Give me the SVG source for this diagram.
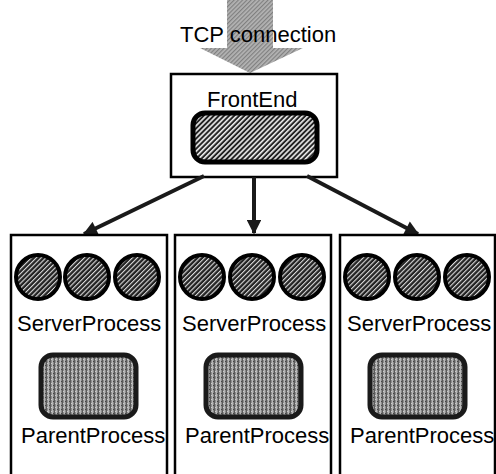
<svg xmlns="http://www.w3.org/2000/svg" width="496" height="474" viewBox="0 0 496 474">
<defs>
<style>
.lbl{font-family:"Liberation Sans",Arial,sans-serif;font-size:22px;fill:#000}
.box{fill:#fff;stroke:#000;stroke-width:2.5}
.circ{fill:url(#hatch);stroke:#000;stroke-width:4}
.fe{fill:url(#hatch2);stroke:#000;stroke-width:5}
.par{fill:url(#stip);stroke:#1a1a1a;stroke-width:5}
.conn{stroke:#1a1a1a;stroke-width:4;fill:none;marker-end:url(#ah)}
</style>
<pattern id="hatch" width="3.4" height="3.4" patternUnits="userSpaceOnUse" patternTransform="rotate(45)">
<rect width="3.4" height="3.4" fill="#222"/>
<rect width="1.1" height="3.4" fill="#ddd"/>
</pattern>
<pattern id="hatch2" width="3.6" height="3.6" patternUnits="userSpaceOnUse" patternTransform="rotate(45)">
<rect width="3.6" height="3.6" fill="#222"/>
<rect width="1.6" height="3.6" fill="#eee"/>
</pattern>
<pattern id="stip" width="4" height="4" patternUnits="userSpaceOnUse">
<rect width="4" height="4" fill="#8c8c8c"/>
<rect x="0" width="1" height="4" fill="#b8b8b8"/>
<rect x="2" width="1" height="4" fill="#5a5a5a"/>
<rect x="1" y="1" width="1" height="1" fill="#444"/>
<rect x="3" y="3" width="1" height="1" fill="#ccc"/>
</pattern>
<pattern id="tcp" width="3" height="3" patternUnits="userSpaceOnUse" patternTransform="rotate(45)">
<rect width="3" height="3" fill="#b4b4b4"/>
<rect width="1.2" height="3" fill="#808080"/>
</pattern>
<marker id="ah" viewBox="0 0 10 10" refX="9" refY="5" markerWidth="4" markerHeight="3.6" orient="auto" markerUnits="strokeWidth">
<path d="M0,0 L10,5 L0,10 z" fill="#1a1a1a"/>
</marker>
</defs>
<g id="tcp-arrow">
<path d="M227,0 L273,0 L273,48 L303,48 L250,73 L200,48 L227,48 z" fill="url(#tcp)"/>
<text class="lbl" x="180" y="42">TCP connection</text>
</g>
<g id="frontend">
<rect class="box" x="171" y="74" width="166" height="103"/>
<text class="lbl" x="207" y="107">FrontEnd</text>
<rect class="fe" x="193" y="113" width="124" height="49" rx="12" ry="12"/>
</g>
<g id="connectors">
<line class="conn" x1="204" y1="176" x2="84" y2="234"/>
<line class="conn" x1="254" y1="177" x2="254" y2="233"/>
<line class="conn" x1="307" y1="176" x2="418" y2="234"/>
</g>
<g id="node1">
<rect class="box" x="11" y="235" width="156" height="245"/>
<circle class="circ" cx="38" cy="277" r="22"/>
<circle class="circ" cx="87" cy="277" r="22"/>
<circle class="circ" cx="137" cy="277" r="22"/>
<text class="lbl" x="17" y="331">ServerProcess</text>
<rect class="par" x="41" y="355" width="95" height="62" rx="12" ry="12"/>
<text class="lbl" x="21" y="443">ParentProcess</text>
</g>
<g id="node2">
<rect class="box" x="175" y="235" width="156" height="245"/>
<circle class="circ" cx="202" cy="277" r="22"/>
<circle class="circ" cx="252" cy="277" r="22"/>
<circle class="circ" cx="302" cy="277" r="22"/>
<text class="lbl" x="182" y="331">ServerProcess</text>
<rect class="par" x="206" y="355" width="95" height="62" rx="12" ry="12"/>
<text class="lbl" x="185" y="443">ParentProcess</text>
</g>
<g id="node3">
<rect class="box" x="340" y="235" width="155" height="245"/>
<circle class="circ" cx="367" cy="277" r="22"/>
<circle class="circ" cx="417" cy="277" r="22"/>
<circle class="circ" cx="467" cy="277" r="22"/>
<text class="lbl" x="347" y="331">ServerProcess</text>
<rect class="par" x="370" y="355" width="95" height="62" rx="12" ry="12"/>
<text class="lbl" x="350" y="443">ParentProcess</text>
</g>
</svg>
